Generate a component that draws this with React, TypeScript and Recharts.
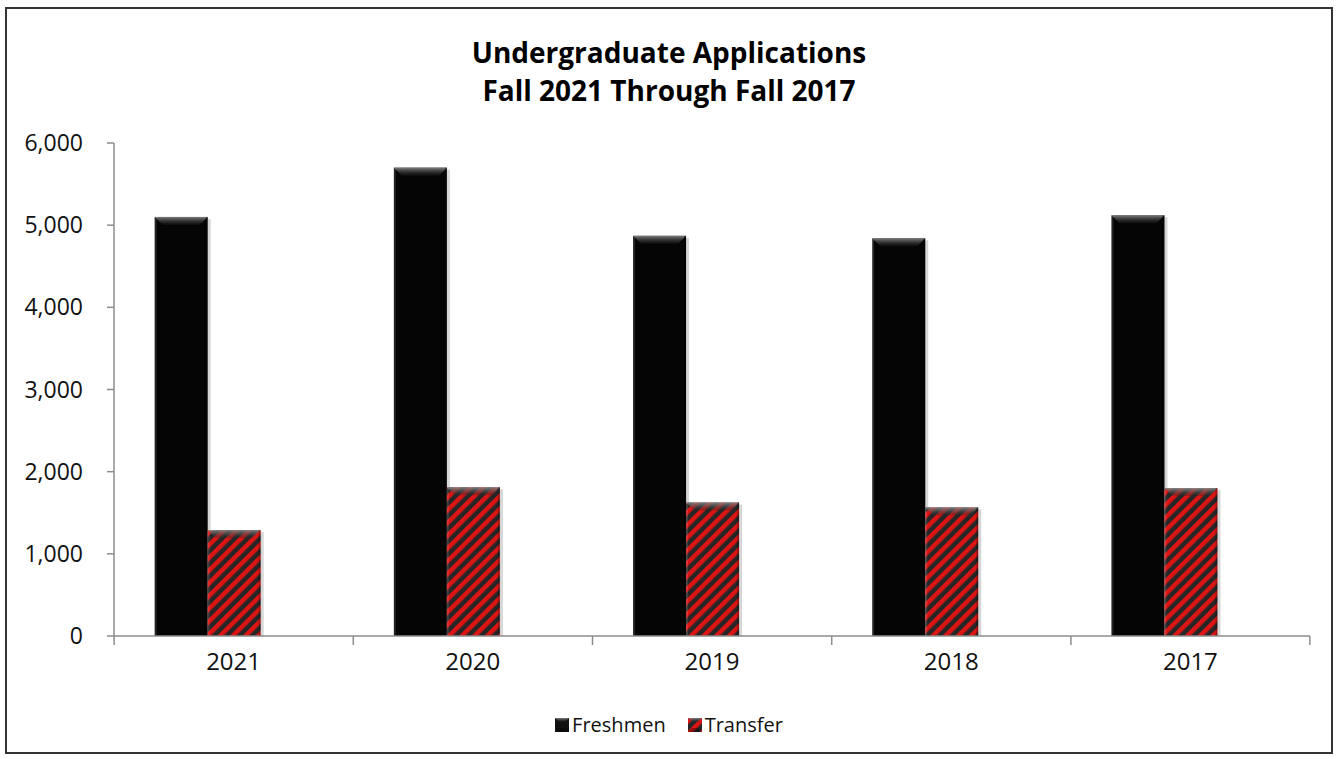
import { BarChart, Bar, XAxis, YAxis } from 'recharts';

const years = ['2021', '2020', '2019', '2018', '2017'];
const freshmen = [5100, 5700, 4870, 4840, 5120];
const transfer = [1290, 1810, 1625, 1565, 1800];
const yTicks = [0, 1000, 2000, 3000, 4000, 5000, 6000];

const data = years.map((year, i) => ({
  year,
  freshmen: freshmen[i],
  transfer: transfer[i],
}));

const FONT = '"Open Sans", "Liberation Sans", sans-serif';
const AXIS = '#8c8c8c';
const BAND = 1195 / years.length;

function BevelBar(props: any) {
  const { x, y, width, height, fill } = props;
  if (!height || height <= 0) return null;
  const b = Math.min(8, height / 2);
  return (
    <g>
      <rect x={x + width} y={y + 2} width={3} height={height - 2} fill="#d6d6d6" />
      <rect x={x} y={y} width={width} height={height} fill={fill} />
      <polygon
        points={`${x},${y} ${x + width},${y} ${x + width - b},${y + b} ${x + b},${y + b}`}
        fill="url(#bevelTop)"
      />
      <rect x={x} y={y} width={2} height={height} fill="#ffffff" opacity={0.12} />
      <rect x={x + width - 2} y={y} width={2} height={height} fill="#000" opacity={0.25} />
    </g>
  );
}

function XTick(props: any) {
  const { x, y, payload, index } = props;
  const half = BAND / 2;
  return (
    <g>
      <line x1={x - half} x2={x - half} y1={y} y2={y + 9} stroke={AXIS} strokeWidth={1.5} />
      {index === years.length - 1 && (
        <line x1={x + half} x2={x + half} y1={y} y2={y + 9} stroke={AXIS} strokeWidth={1.5} />
      )}
      <text x={x} y={y + 34} textAnchor="middle" fontSize={24} fill="#111" fontFamily={FONT}>
        {payload.value}
      </text>
    </g>
  );
}

function LegendIcon({ fill }: { fill: string }) {
  return (
    <svg width={14} height={14} style={{ marginRight: 3 }}>
      <rect x={0} y={0} width={14} height={14} fill={fill} />
      <polygon points="0,0 14,0 10,4 4,4" fill="url(#bevelTop)" />
      <polygon points="0,14 14,14 10,10 4,10" fill="#000" opacity={0.35} />
    </svg>
  );
}

export default function App() {
  return (
    <div
      style={{
        position: 'absolute',
        left: 0,
        top: 0,
        width: 1338,
        height: 759,
        background: '#fff',
        fontFamily: FONT,
      }}
    >
      <svg width={0} height={0} style={{ position: 'absolute' }}>
        <defs>
          <pattern
            id="stripes"
            patternUnits="userSpaceOnUse"
            width={9}
            height={9}
            patternTransform="rotate(45)"
          >
            <rect x={0} y={0} width={9} height={9} fill="#262626" />
            <rect x={0} y={0} width={4.5} height={9} fill="#dc1414" />
          </pattern>
          <linearGradient id="bevelTop" x1="0" y1="0" x2="0" y2="1">
            <stop offset="0%" stopColor="#8a8a8a" stopOpacity={0.9} />
            <stop offset="100%" stopColor="#222" stopOpacity={0.3} />
          </linearGradient>
        </defs>
      </svg>

      <div
        style={{
          position: 'absolute',
          left: 5,
          top: 7,
          width: 1324,
          height: 743,
          border: '2px solid #333',
        }}
      />

      <div
        style={{
          position: 'absolute',
          left: 0,
          top: 33,
          width: 1338,
          textAlign: 'center',
          fontSize: 28,
          fontWeight: 700,
          lineHeight: '38px',
          color: '#000',
        }}
      >
        Undergraduate Applications
        <br />
        Fall 2021 Through Fall 2017
      </div>

      <div style={{ position: 'absolute', left: 0, top: 0 }}>
        <BarChart
          width={1338}
          height={759}
          data={data}
          margin={{ top: 143, right: 28, bottom: 63, left: 0 }}
          barCategoryGap="17%"
          barGap={0}
        >
          <XAxis
            dataKey="year"
            tick={<XTick />}
            tickLine={false}
            tickSize={0}
            tickMargin={0}
            axisLine={{ stroke: AXIS, strokeWidth: 1.5 }}
            height={60}
            interval={0}
          />
          <YAxis
            domain={[0, 6000]}
            ticks={yTicks}
            width={114}
            tickSize={7}
            tickMargin={24}
            axisLine={{ stroke: AXIS, strokeWidth: 1.5 }}
            tickLine={{ stroke: AXIS, strokeWidth: 1.5 }}
            tick={{ fontSize: 23, fill: '#111', fontFamily: FONT }}
            tickFormatter={(v: number) => v.toLocaleString('en-US')}
            interval={0}
          />
          <Bar dataKey="freshmen" fill="#050505" shape={BevelBar} isAnimationActive={false} />
          <Bar dataKey="transfer" fill="url(#stripes)" shape={BevelBar} isAnimationActive={false} />
          {/* empty third slot, as in the original chart, keeps the pair left of centre */}
          <Bar dataKey="blank" fill="none" legendType="none" isAnimationActive={false} />
        </BarChart>
      </div>

      <div
        style={{
          position: 'absolute',
          left: 0,
          top: 711,
          width: 1338,
          display: 'flex',
          justifyContent: 'center',
          alignItems: 'center',
          fontSize: 20,
          color: '#111',
        }}
      >
        <span style={{ display: 'inline-flex', alignItems: 'center', marginRight: 22 }}>
          <LegendIcon fill="#111" />
          Freshmen
        </span>
        <span style={{ display: 'inline-flex', alignItems: 'center' }}>
          <LegendIcon fill="url(#stripes)" />
          Transfer
        </span>
      </div>
    </div>
  );
}
